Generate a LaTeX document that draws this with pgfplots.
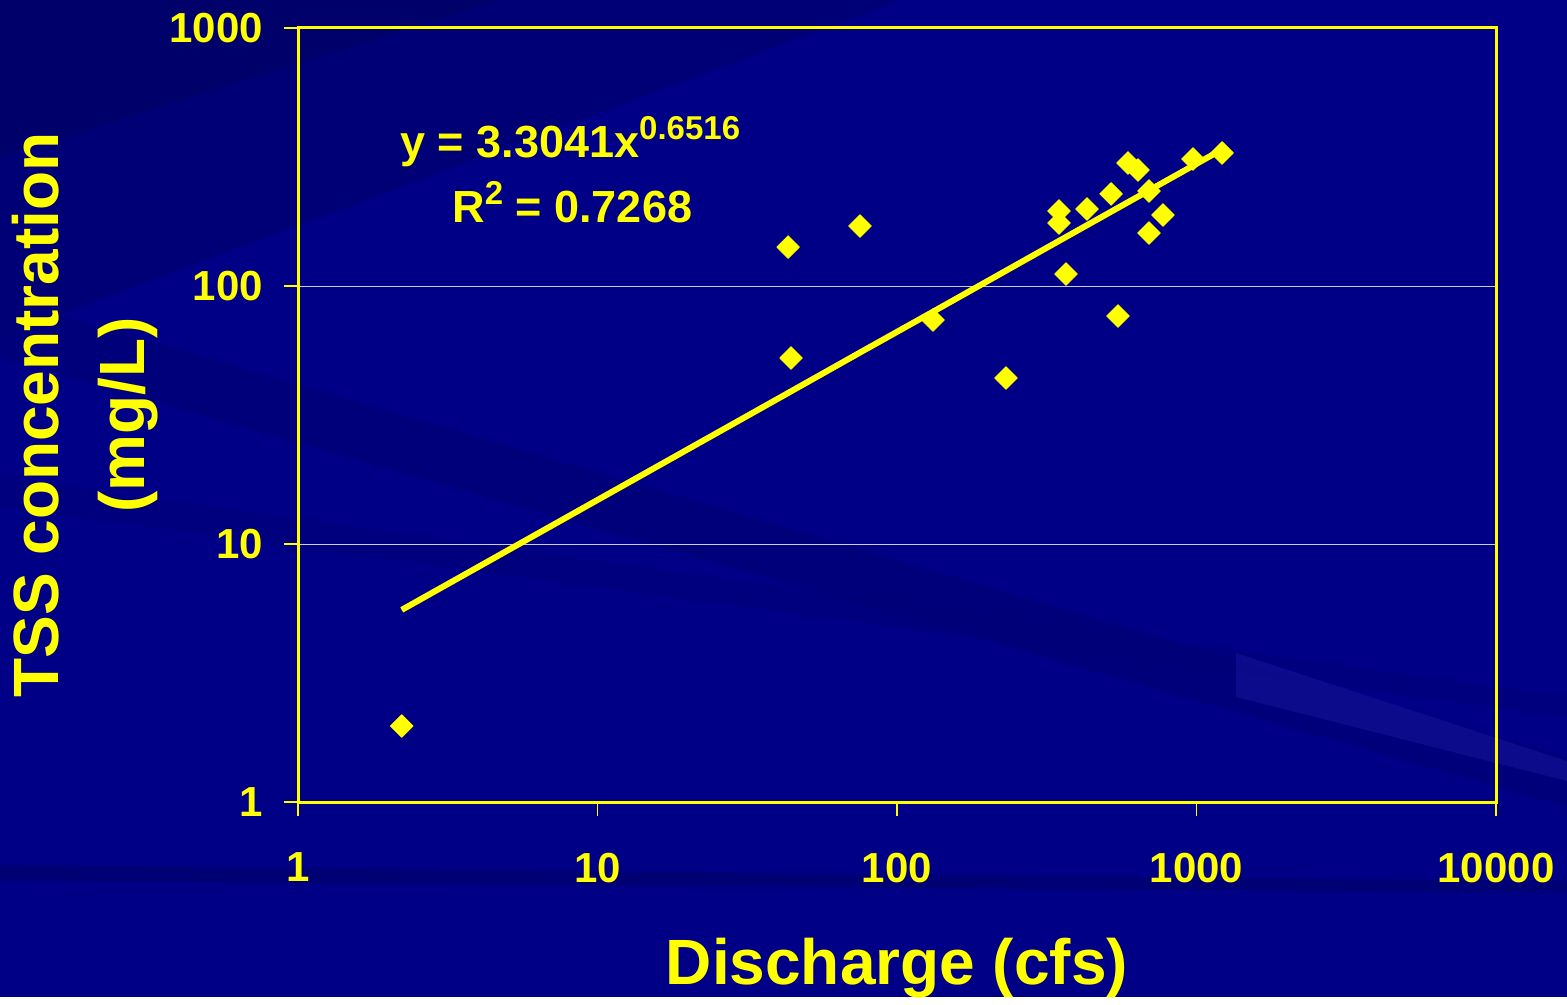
\documentclass[border=0pt]{standalone}
\usepackage{pgfplots}
\pgfplotsset{compat=1.18}
\usepackage{fontspec}
\setmainfont{Liberation Sans}
\definecolor{bgA}{RGB}{0,0,135}
\definecolor{bgDark}{RGB}{0,0,100}
\definecolor{bgMid}{RGB}{0,0,118}
\definecolor{bgLight}{RGB}{25,25,160}
\definecolor{yel}{RGB}{255,255,0}
\definecolor{gridc}{RGB}{205,205,215}
\begin{document}
\begin{tikzpicture}
% background
\fill[bgA] (0,0) rectangle (783.5pt,498.5pt);
\begin{scope}
\clip (0,0) rectangle (783.5pt,498.5pt);
\fill[bgMid] (0,498.5pt) -- (450pt,498.5pt) -- (0pt,330pt) -- cycle;
\fill[bgDark,opacity=0.6] (0,498.5pt) -- (250pt,498.5pt) -- (0pt,420pt) -- cycle;
\fill[bgMid,opacity=0.7] (0,350pt) -- (783.5pt,120pt) -- (783.5pt,95pt) -- (0,320pt) -- cycle;
\fill[bgMid,opacity=0.5] (0,260pt) -- (783.5pt,150pt) -- (783.5pt,140pt) -- (0,245pt) -- cycle;
\fill[bgDark,opacity=0.5] (0,66pt) -- (783.5pt,58pt) -- (783.5pt,52pt) -- (0,58pt) -- cycle;
\fill[bgLight,opacity=0.45] (618pt,172pt) -- (783.5pt,118pt) -- (783.5pt,108pt) -- (618pt,150pt) -- cycle;
\end{scope}
\begin{axis}[
  at={(149pt,97.5pt)}, anchor=south west,
  scale only axis, width=599pt, height=387pt,
  xmode=log, ymode=log,
  xmin=1, xmax=10000, ymin=1, ymax=1000,
  xtick={1,10,100,1000,10000},
  ytick={1,10,100,1000},
  xticklabels={1,10,100,1000,10000},
  yticklabels={1,10,100,1000},
  minor tick style={draw=none},
  minor tick length=0pt,
  xtick pos=bottom, ytick pos=left,
  axis line style={yel, line width=1.5pt},
  tick align=outside,
  major tick length=7pt,
  tick style={yel, line width=0.6pt},
  ymajorgrids,
  major grid style={gridc, line width=0.35pt},
  /pgf/number format/assume math mode=true,
  ticklabel style={font=\fontsize{21}{24}\selectfont\bfseries, text=yel},
  xticklabel shift=15pt,
  yticklabel shift=7pt,
  xlabel={Discharge (cfs)},
  ylabel={TSS concentration\\(mg/L)},
  label style={font=\fontsize{32}{43}\selectfont\bfseries, text=yel},
  xlabel style={at={(axis description cs:0.5,-0.236)}, anchor=base},
  ylabel style={at={(axis description cs:-0.178,0.5)}, anchor=center, align=center},
  clip=false,
]
\addplot[yel, line width=3pt, line join=round]
coordinates {
(2.22,5.555) (43.3,38.5) (75.2,55.2) (131.9,79.5) (231,114.6) (347.6,149.6)
(518.5,194.1) (693.8,234.6) (973,292.4) (1217,338.3)
};
\addplot[only marks, mark=square*, mark size=4pt, color=yel, mark options={rotate=45, fill=yel, draw=yel, line join=round}]
coordinates {
(2.22,1.97) (43.3,141.6) (44.3,52.6) (75.2,170.8) (131.9,73.8) (231,44.0)
(347.6,195.4) (347.6,175.4) (431,198.8) (518.5,227.4) (590.7,299.8) (637.9,281.7)
(693.8,233.5) (772.5,188.4) (693.8,160.4) (973,310.8) (1217,327.9) (366.8,111.3) (547,76.5)
};
\node[anchor=base west, text=yel, font=\fontsize{22.5}{26}\selectfont\bfseries, inner sep=0pt]
  at (axis description cs:0.085,0.833) {y = 3.3041x\raisebox{9pt}{\fontsize{16.5}{18}\selectfont 0.6516}};
\node[anchor=base west, text=yel, font=\fontsize{22.5}{26}\selectfont\bfseries, inner sep=0pt]
  at (axis description cs:0.1285,0.749) {R\raisebox{9pt}{\fontsize{16.5}{18}\selectfont 2} = 0.7268};
\end{axis}
\end{tikzpicture}
\end{document}
